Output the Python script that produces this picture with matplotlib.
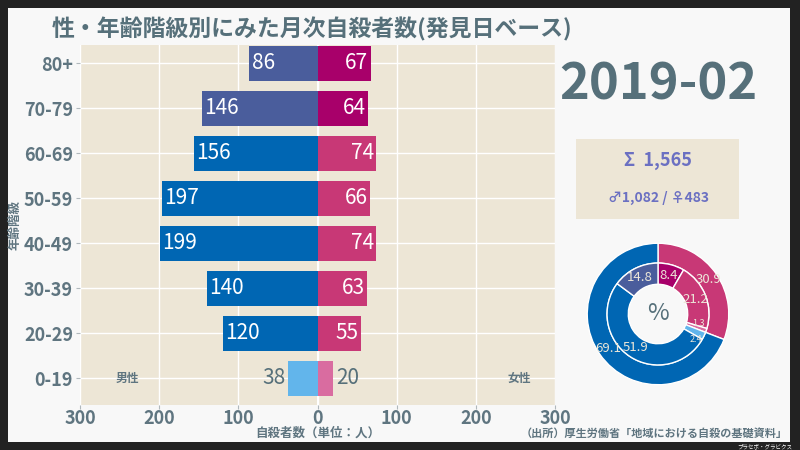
import matplotlib
matplotlib.use('Agg')
import matplotlib.pyplot as plt
from matplotlib.patches import Rectangle
import numpy as np

plt.rcParams['font.family'] = ['Noto Sans CJK JP', 'DejaVu Sans']

# data
ages = ['0-19', '20-29', '30-39', '40-49', '50-59', '60-69', '70-79', '80+']
male = [38, 120, 140, 199, 197, 156, 146, 86]
female = [20, 55, 63, 74, 66, 74, 64, 67]
month = '2019-02'
title = '性・年齢階級別にみた月次自殺者数(発見日ベース)'
source = '（出所）厚生労働省「地域における自殺の基礎資料」'

# colours per age group: young / middle / old
male_cols = ['#62b5eb'] + ['#0066b3'] * 5 + ['#4a5d9c'] * 2
female_cols = ['#d96ca0'] + ['#c83876'] * 5 + ['#a8006a'] * 2
gray = '#56707a'

fig = plt.figure(figsize=(8, 4.5), dpi=100, facecolor='#222222')
fig.patches.append(Rectangle((8 / 800, 1 - 442 / 450), 782 / 800, 434 / 450,
                             transform=fig.transFigure, facecolor='#f8f8f8',
                             edgecolor='none', zorder=-10))

ax = fig.add_axes([0.1, 0.1, 0.594, 0.8])
ax.set_facecolor('#ede6d6')
y = np.arange(len(ages))
ax.barh(y, [-m for m in male], height=0.78, color=male_cols, zorder=3)
ax.barh(y, female, height=0.78, color=female_cols, zorder=3)

for i in range(len(ages)):
    if i == 0:
        ax.text(-male[i] - 3, y[i], str(male[i]), ha='right', va='center',
                fontsize=15, color=gray, zorder=4)
        ax.text(female[i] + 3, y[i], str(female[i]), ha='left', va='center',
                fontsize=15, color=gray, zorder=4)
    else:
        ax.text(-male[i] + 3, y[i], str(male[i]), ha='left', va='center',
                fontsize=15, color='white', zorder=4)
        ax.text(female[i] - 3, y[i], str(female[i]), ha='right', va='center',
                fontsize=15, color='white', zorder=4)

ax.set_xlim(-300, 300)
ax.set_ylim(-0.59, 7.41)
ax.set_yticks(y)
ax.set_yticklabels(ages)
ax.set_xticks([-300, -200, -100, 0, 100, 200, 300])
ax.set_xticklabels(['300', '200', '100', '0', '100', '200', '300'])
ax.tick_params(labelsize=13, colors='#b0b8bc', labelcolor='#5f7580', length=3, pad=2)
ax.tick_params(axis='x', pad=0)
for lab in ax.get_xticklabels() + ax.get_yticklabels():
    lab.set_fontweight('bold')
ax.grid(True, color='white', linewidth=1, zorder=1)
ax.axvline(0, color='white', linewidth=1.5, zorder=2)
for s in ax.spines.values():
    s.set_visible(False)
ax.set_xlabel('自殺者数（単位：人）', fontsize=9, fontweight='bold', color='#5f7580', labelpad=-1)
ax.set_ylabel('年齢階級', fontsize=9, fontweight='bold', color='#5f7580', labelpad=2)
ax.text(-240, 0, '男性', ha='center', va='center', fontsize=8.5, fontweight='bold', color='#5f7580')
ax.text(255, 0, '女性', ha='center', va='center', fontsize=8.5, fontweight='bold', color='#5f7580')

fig.text(0.39, 0.936, title, ha='center', va='center', fontsize=16.5,
         fontweight='bold', color=gray)
fig.text(658 / 800, 0.81, month, ha='center', va='center', fontsize=36.5,
         fontweight='bold', color=gray)

# summary box
total_m = sum(male)
total_f = sum(female)
total = total_m + total_f
fig.patches.append(Rectangle((576 / 800, 1 - 219 / 450), 163 / 800, 80 / 450,
                             transform=fig.transFigure, facecolor='#ede6d6',
                             edgecolor='none', zorder=1))
fig.text(0.8225, 1 - 161 / 450, 'Σ  {:,}'.format(total), ha='center', va='center',
         fontsize=13, fontweight='bold', color='#6b70c2')
fig.text(0.8225, 1 - 198 / 450, '♂{:,} / ♀{:,}'.format(total_m, total_f), ha='center',
         va='center', fontsize=10, fontweight='bold', color='#6b70c2')

# donut
pax = fig.add_axes([(658 - 75) / 800, (450 - 314 - 75) / 450, 150 / 800, 150 / 450])
outer = [total_f, total_m]
inner = [female[6] + female[7], sum(female[1:6]), female[0],
         male[0], sum(male[1:6]), male[6] + male[7]]
inner_cols = ['#a8006a', '#c83876', '#d96ca0', '#62b5eb', '#0066b3', '#4a5d9c']
w_out, _ = pax.pie(outer, radius=1, colors=['#c83876', '#0066b3'], startangle=90,
                   counterclock=False, wedgeprops=dict(width=0.28, edgecolor='white', linewidth=1))
w_in, _ = pax.pie(inner, radius=0.72, colors=inner_cols, startangle=90,
                  counterclock=False, wedgeprops=dict(width=0.3, edgecolor='white', linewidth=1))


def put_labels(wedges, vals, r, size, dy=0.0):
    for w, v in zip(wedges, vals):
        ang = np.deg2rad((w.theta1 + w.theta2) / 2)
        pax.text(r * np.cos(ang), r * np.sin(ang) + dy, '{:.1f}'.format(v / total * 100),
                 ha='center', va='center', fontsize=size, color='#ece6d8')


put_labels(w_out, outer, 0.86, 9.5)
put_labels(w_in[:2], inner[:2], 0.57, 9.5)
# two thin slices: nudge apart so the labels stay readable
put_labels(w_in[2:3], inner[2:3], 0.6, 6.5, dy=0.06)
put_labels(w_in[3:4], inner[3:4], 0.6, 6.5, dy=-0.1)
put_labels(w_in[4:], inner[4:], 0.57, 9.5)
pax.text(0, 0, '%', ha='center', va='center', fontsize=17, color=gray)
pax.set_xlim(-1.06, 1.06)
pax.set_ylim(-1.06, 1.06)
pax.set_aspect('equal')

fig.text(788 / 800, 1 - 433 / 450, source, ha='right', va='center', fontsize=8,
         fontweight='bold', color='#5f7580')
fig.text(792 / 800, 1 - 446 / 450, 'プラセボ・グラビクス', ha='right', va='center',
         fontsize=4, color='white')

fig.savefig('out.png', dpi=100, facecolor=fig.get_facecolor())
